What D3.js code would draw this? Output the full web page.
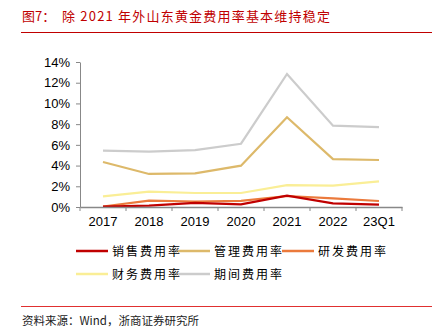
<!DOCTYPE html>
<html lang="zh">
<head>
  <meta charset="UTF-8" />
  <title>图7</title>
  <script src="https://d3js.org/d3.v7.min.js"></script>
  <style>
    body { margin: 0; background: #fff; }
    svg { display: block; }
  </style>
</head>
<body>
  <svg width="439" height="334" id="chart"></svg>
  <script>
    const years = ["2017", "2018", "2019", "2020", "2021", "2022", "23Q1"];
    const yTicks = [0, 2, 4, 6, 8, 10, 12, 14];

    const sales   = [0.05, 0.13, 0.39, 0.26, 1.09, 0.35, 0.22];
    const admin   = [4.34, 3.19, 3.25, 3.99, 8.66, 4.63, 4.54];
    const rnd     = [0.05, 0.61, 0.53, 0.6, 1.06, 0.84, 0.58];
    const finance = [1.03, 1.48, 1.35, 1.35, 2.12, 2.06, 2.48];
    const period  = [5.44, 5.34, 5.5, 6.11, 12.84, 7.85, 7.72];

    const seriesNames = ["销售费用率", "管理费用率", "研发费用率", "财务费用率", "期间费用率"];
    const seriesValues = [sales, admin, rnd, finance, period];
    const seriesColors = ["#C00000", "#DDB96A", "#EB7A3C", "#FAEE96", "#CCCCCC"];

    const svg = d3.select("#chart");
    const cjk = "'Noto Sans CJK SC', sans-serif";

    // title
    svg.append("text")
      .attr("x", 22).attr("y", 21)
      .attr("font-family", cjk).attr("font-size", 13)
      .attr("fill", "#C00000")
      .text("图7：");
    svg.append("text")
      .attr("x", 62).attr("y", 21)
      .attr("font-family", cjk).attr("font-size", 13)
      .attr("letter-spacing", 1.2)
      .attr("fill", "#C00000")
      .text("除 2021 年外山东黄金费用率基本维持稳定");
    svg.append("line")
      .attr("x1", 21).attr("x2", 432).attr("y1", 32.5).attr("y2", 32.5)
      .attr("stroke", "#C00000").attr("stroke-width", 1);

    const x = d3.scaleBand().domain(years).range([80, 402]);
    const y = d3.scaleLinear().domain([0, 14]).range([207, 62]);

    // y axis
    const yAxis = svg.append("g")
      .attr("transform", "translate(80,0)")
      .call(d3.axisLeft(y).tickValues(yTicks).tickFormat(d => d + "%").tickSize(4).tickSizeOuter(0));
    yAxis.select(".domain").attr("stroke", "#888");
    yAxis.selectAll(".tick line").attr("stroke", "#888");
    yAxis.selectAll("text").attr("font-family", "'Liberation Sans', Arial, sans-serif")
      .attr("font-size", 13).attr("fill", "#000").attr("dx", "-3");

    // lines
    const line = d3.line()
      .x((d, i) => x(years[i]) + x.bandwidth() / 2)
      .y(d => y(d));

    const order = [4, 1, 3, 2, 0];
    order.forEach(k => {
      svg.append("path")
        .datum(seriesValues[k])
        .attr("d", line)
        .attr("fill", "none")
        .attr("stroke", seriesColors[k])
        .attr("stroke-width", 2.2)
        .attr("stroke-linejoin", "miter");
    });

    // x axis
    const xAxis = svg.append("g")
      .attr("transform", "translate(0,207)")
      .call(d3.axisBottom(x).tickSize(4).tickSizeOuter(0));
    xAxis.select(".domain").attr("stroke", "#888").attr("stroke-width", 1.3);
    xAxis.selectAll(".tick line")
      .attr("transform", `translate(${x.bandwidth() / 2},0)`)
      .attr("stroke", "#888");
    xAxis.append("line")
      .attr("x1", 80).attr("x2", 80).attr("y1", 0).attr("y2", 4).attr("stroke", "#888");
    xAxis.selectAll("text").attr("font-family", "'Liberation Sans', Arial, sans-serif")
      .attr("font-size", 13).attr("fill", "#000").attr("dy", "0.95em");

    // legend
    const legendPos = [[76, 251], [178, 251], [282, 251], [76, 274], [178, 274]];
    seriesNames.forEach((name, k) => {
      const [lx, ly] = legendPos[k];
      svg.append("line")
        .attr("x1", lx).attr("x2", lx + 32).attr("y1", ly).attr("y2", ly)
        .attr("stroke", seriesColors[k]).attr("stroke-width", 2.5);
      svg.append("text")
        .attr("x", lx + 36).attr("y", ly + 4.5)
        .attr("font-family", cjk).attr("font-size", 12)
        .attr("letter-spacing", 2)
        .attr("fill", "#000")
        .text(name);
    });

    // footer
    svg.append("line")
      .attr("x1", 21).attr("x2", 432).attr("y1", 306.5).attr("y2", 306.5)
      .attr("stroke", "#E03030").attr("stroke-width", 1);
    svg.append("text")
      .attr("x", 22).attr("y", 325)
      .attr("font-family", cjk).attr("font-size", 11.5)
      .attr("fill", "#222")
      .text("资料来源：Wind，浙商证券研究所");
  </script>
</body>
</html>
